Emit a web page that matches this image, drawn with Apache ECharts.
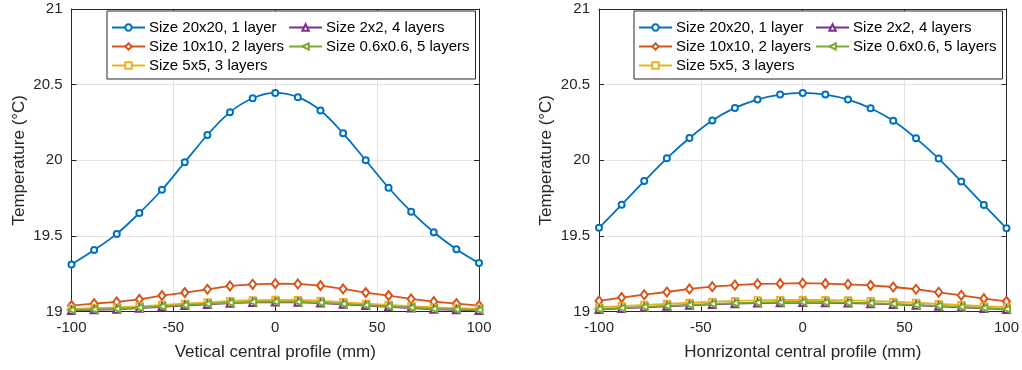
<!DOCTYPE html>
<html>
<head>
<meta charset="utf-8">
<script src="https://cdn.jsdelivr.net/npm/echarts@6/dist/echarts.min.js"></script>
<style>
  html, body { margin: 0; padding: 0; background: #fff; }
  #main { width: 1022px; height: 370px; }
</style>
</head>
<body>
<div id="main"></div>
<script>
// profile positions (mm), 19 markers
const xPos = [-100, -88.9, -77.8, -66.7, -55.6, -44.4, -33.3, -22.2, -11.1, 0,
  11.1, 22.2, 33.3, 44.4, 55.6, 66.7, 77.8, 88.9, 100];

const names = ['Size 20x20, 1 layer', 'Size 10x10, 2 layers', 'Size 5x5, 3 layers',
  'Size 2x2, 4 layers', 'Size 0.6x0.6, 5 layers'];

// vertical profile (left)
const vSize20 = [19.311, 19.406, 19.513, 19.651, 19.805, 19.987, 20.167, 20.318, 20.410, 20.445,
  20.417, 20.329, 20.178, 20.000, 19.818, 19.660, 19.524, 19.412, 19.320];
const vSize10 = [19.039, 19.052, 19.063, 19.080, 19.105, 19.125, 19.147, 19.169, 19.180, 19.184,
  19.182, 19.171, 19.149, 19.125, 19.105, 19.083, 19.065, 19.052, 19.039];
const vSize5 = [19.018, 19.022, 19.027, 19.034, 19.044, 19.052, 19.061, 19.070, 19.075, 19.077,
  19.076, 19.071, 19.062, 19.052, 19.044, 19.035, 19.027, 19.022, 19.018];
const vSize2 = [19.007, 19.011, 19.015, 19.022, 19.031, 19.039, 19.047, 19.055, 19.060, 19.062,
  19.061, 19.056, 19.048, 19.039, 19.031, 19.023, 19.015, 19.011, 19.007];
const vSize06 = [19.010, 19.014, 19.018, 19.025, 19.034, 19.042, 19.050, 19.058, 19.063, 19.065,
  19.064, 19.059, 19.051, 19.042, 19.034, 19.026, 19.018, 19.014, 19.010];

// horizontal profile (right)
const hSize20 = [19.553, 19.706, 19.862, 20.013, 20.147, 20.263, 20.346, 20.401, 20.434, 20.445,
  20.434, 20.401, 20.344, 20.261, 20.145, 20.011, 19.860, 19.704, 19.550];
const hSize10 = [19.070, 19.092, 19.111, 19.129, 19.149, 19.164, 19.175, 19.182, 19.184, 19.187,
  19.184, 19.180, 19.173, 19.162, 19.147, 19.127, 19.107, 19.085, 19.067];
const hSize5 = [19.028, 19.036, 19.044, 19.051, 19.058, 19.065, 19.070, 19.074, 19.076, 19.077,
  19.076, 19.074, 19.070, 19.065, 19.058, 19.050, 19.043, 19.035, 19.028];
const hSize2 = [19.013, 19.020, 19.027, 19.034, 19.041, 19.047, 19.052, 19.056, 19.058, 19.059,
  19.058, 19.056, 19.052, 19.047, 19.041, 19.034, 19.027, 19.020, 19.013];
const hSize06 = [19.016, 19.023, 19.030, 19.037, 19.044, 19.050, 19.055, 19.059, 19.061, 19.062,
  19.061, 19.059, 19.055, 19.050, 19.044, 19.037, 19.030, 19.023, 19.016];

const yTicks = ['19', '19.5', '20', '20.5', '21'];

const colors = ['#0072BD', '#D95319', '#EDB120', '#7E2F8E', '#77AC30'];
const symbols = ['emptyCircle', 'emptyDiamond', 'emptyRect', 'emptyTriangle', 'emptyTriangle'];
const symbolSizes = [6, [7, 9], 6, 7, 7];
const rotates = [0, 0, 0, 0, 90];

const FONT = 'Liberation Sans';
const INK = '#262626';

const myChart = echarts.init(document.getElementById('main'));

const grids = [
  { left: 71.5, right: 543, top: 9, bottom: 58.5 },
  { left: 599, right: 15.5, top: 9, bottom: 58.5 }
];
const xNames = ['Vetical central profile (mm)', 'Honrizontal central profile (mm)'];

const xAxes = [];
const yAxes = [];
grids.forEach((g, i) => {
  xAxes.push({
    type: 'value', gridIndex: i, min: -100, max: 100, interval: 50,
    name: xNames[i], nameLocation: 'middle', nameGap: 32,
    nameTextStyle: { color: INK, fontFamily: FONT, fontSize: 17 },
    axisLine: { onZero: false, lineStyle: { color: INK, width: 1 } },
    axisTick: { inside: true, length: 5, lineStyle: { color: INK } },
    axisLabel: { color: INK, fontFamily: FONT, fontSize: 15, margin: 9 },
    splitLine: { show: true, lineStyle: { color: '#e3e3e3', width: 1 } }
  });
  xAxes.push({
    type: 'value', gridIndex: i, position: 'top', min: -100, max: 100, interval: 50,
    axisLine: { onZero: false, lineStyle: { color: INK, width: 1 } },
    axisTick: { inside: true, length: 5, lineStyle: { color: INK } },
    axisLabel: { show: false },
    splitLine: { show: false }
  });
  yAxes.push({
    type: 'value', gridIndex: i, min: 19, max: 21, interval: 0.5,
    name: 'Temperature (°C)', nameLocation: 'middle', nameGap: 44,
    nameTextStyle: { color: INK, fontFamily: FONT, fontSize: 17 },
    axisLine: { show: true, onZero: false, lineStyle: { color: INK, width: 1 } },
    axisTick: { show: true, inside: true, length: 5, lineStyle: { color: INK } },
    axisLabel: {
      color: INK, fontFamily: FONT, fontSize: 15, margin: 9,
      formatter: v => yTicks.find(t => Math.abs(parseFloat(t) - v) < 1e-6) || ''
    },
    splitLine: { show: true, lineStyle: { color: '#e3e3e3', width: 1 } }
  });
  yAxes.push({
    type: 'value', gridIndex: i, position: 'right', min: 19, max: 21, interval: 0.5,
    axisLine: { show: true, onZero: false, lineStyle: { color: INK, width: 1 } },
    axisTick: { show: true, inside: true, length: 5, lineStyle: { color: INK } },
    axisLabel: { show: false },
    splitLine: { show: false }
  });
});

const panels = [
  [vSize20, vSize10, vSize5, vSize2, vSize06],
  [hSize20, hSize10, hSize5, hSize2, hSize06]
];

const series = [];
panels.forEach((sets, p) => {
  sets.forEach((vals, k) => {
    series.push({
      name: names[k],
      type: 'line',
      xAxisIndex: p * 2,
      yAxisIndex: p * 2,
      data: vals.map((v, j) => [xPos[j], v]),
      smooth: k === 0 ? 0.35 : false,
      symbol: symbols[k],
      symbolSize: symbolSizes[k],
      symbolRotate: rotates[k],
      showAllSymbol: true,
      lineStyle: { color: colors[k], width: 1.8 },
      itemStyle: { color: colors[k], borderColor: colors[k], borderWidth: 1.5 },
      z: 2 + k,
      animation: false
    });
  });
});

const legendBase = {
  orient: 'vertical',
  height: 62,
  itemGap: 4,
  itemWidth: 33,
  itemHeight: 8,
  padding: [9, 6, 6, 4],
  backgroundColor: '#fff',
  borderColor: INK,
  borderWidth: 1,
  borderRadius: 0,
  selectedMode: false,
  textStyle: { color: '#000', fontFamily: FONT, fontSize: 15, padding: [0, 0, 0, -1] },
  data: names
};

const option = {
  backgroundColor: '#ffffff',
  animation: false,
  grid: grids,
  xAxis: xAxes,
  yAxis: yAxes,
  legend: [
    Object.assign({}, legendBase, { left: 107, top: 11 }),
    Object.assign({}, legendBase, { left: 634, top: 11 })
  ],
  series: series
};

myChart.setOption(option);
</script>
</body>
</html>
